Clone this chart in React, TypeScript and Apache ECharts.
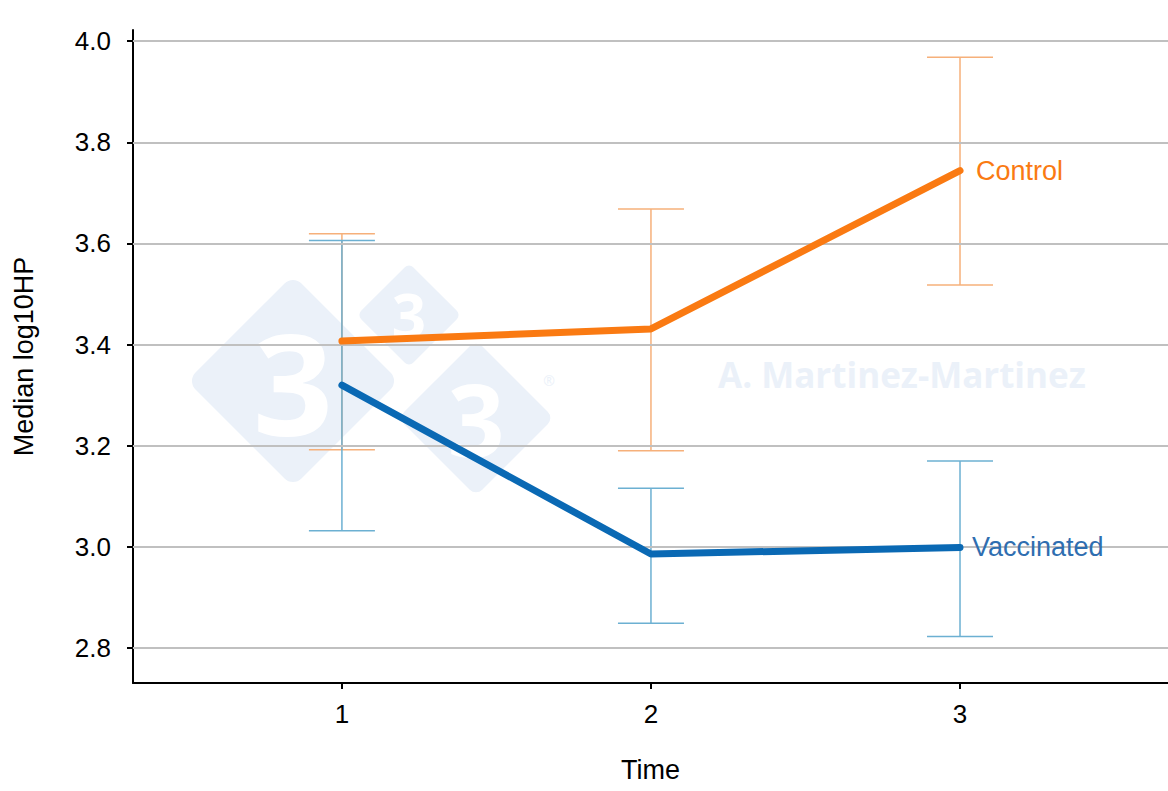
import React, { useEffect, useRef } from "react";
import * as echarts from "echarts";

const times = [1, 2, 3];
const controlMedian = [3.407, 3.431, 3.744];
const controlLow = [3.192, 3.19, 3.518];
const controlHigh = [3.619, 3.668, 3.968];
const vaccMedian = [3.32, 2.986, 2.999];
const vaccLow = [3.032, 2.849, 2.823];
const vaccHigh = [3.606, 3.116, 3.17];
const yTicks = [2.8, 3.0, 3.2, 3.4, 3.6, 3.8, 4.0];

const ORANGE = "#fa7a12";
const BLUE = "#0a69b4";
const ORANGE_LIGHT = "#f6b07a";
const BLUE_LIGHT = "#6cb0d2";
const WM = "#ebf1f9";

function errorSeries(name: string, low: number[], high: number[], color: string) {
  return {
    name,
    type: "custom",
    z: 3,
    data: times.map((t, i) => [t, low[i], high[i]]),
    renderItem: (params: any, api: any) => {
      const x = api.value(0);
      const lo = api.coord([x, api.value(1)]);
      const hi = api.coord([x, api.value(2)]);
      const hw = 33;
      const style = { stroke: color, lineWidth: 1.5, fill: "none" };
      return {
        type: "group",
        children: [
          { type: "line", shape: { x1: lo[0], y1: lo[1], x2: hi[0], y2: hi[1] }, style },
          { type: "line", shape: { x1: lo[0] - hw, y1: lo[1], x2: lo[0] + hw, y2: lo[1] }, style },
          { type: "line", shape: { x1: hi[0] - hw, y1: hi[1], x2: hi[0] + hw, y2: hi[1] }, style },
        ],
      };
    },
  };
}

function diamond(cx: number, cy: number, halfDiag: number, fontSize: number) {
  const s = halfDiag * Math.SQRT2;
  return {
    type: "group",
    x: cx,
    y: cy,
    z: 0,
    children: [
      {
        type: "rect",
        rotation: Math.PI / 4,
        shape: { x: -s / 2, y: -s / 2, width: s, height: s, r: s * 0.08 },
        style: { fill: WM },
      },
      {
        type: "text",
        style: {
          text: "3",
          x: 0,
          y: 0,
          align: "center",
          verticalAlign: "middle",
          fill: "#ffffff",
          font: `bold ${fontSize}px "Open Sans", sans-serif`,
        },
      },
    ],
  };
}

export default function App() {
  const ref = useRef<HTMLDivElement>(null);
  useEffect(() => {
    document.body.style.margin = "0";
    const chart = echarts.init(ref.current!, undefined, { renderer: "svg" });
    const font = "Liberation Sans";
    chart.setOption({
      animation: false,
      backgroundColor: "#ffffff",
      textStyle: { fontFamily: font },
      grid: { left: 133, right: 0, top: 30, bottom: 108, containLabel: false },
      graphic: [
        diamond(293, 381, 106, 140),
        diamond(409, 315, 52, 60),
        diamond(476, 418, 78, 100),
        {
          type: "text",
          z: 0,
          style: {
            text: "®",
            x: 549,
            y: 380,
            align: "center",
            verticalAlign: "middle",
            fill: WM,
            font: '14px "Open Sans", sans-serif',
          },
        },
        {
          type: "text",
          z: 0,
          style: {
            text: "A. Martinez-Martinez",
            x: 718,
            y: 374,
            align: "left",
            verticalAlign: "middle",
            fill: WM,
            font: 'bold 35px "Open Sans", sans-serif',
          },
        },
      ],
      xAxis: {
        type: "value",
        min: 0.324,
        max: 3.673,
        name: "Time",
        nameLocation: "middle",
        nameGap: 73,
        nameTextStyle: { fontSize: 27, color: "#000", fontFamily: font },
        axisLine: { show: true, lineStyle: { color: "#000", width: 2 } },
        axisTick: { show: true, customValues: times, length: 6, lineStyle: { color: "#000", width: 2 } },
        axisLabel: { customValues: times, fontSize: 26, color: "#000", margin: 18, fontFamily: font },
        splitLine: { show: false },
      },
      yAxis: {
        type: "value",
        min: 2.731,
        max: 4.022,
        name: "Median log10HP",
        nameLocation: "middle",
        nameGap: 96,
        nameTextStyle: { fontSize: 27, color: "#000", fontFamily: font },
        axisLine: { show: true, lineStyle: { color: "#000", width: 2 } },
        axisTick: { show: true, customValues: yTicks, length: 6, lineStyle: { color: "#000", width: 2 } },
        axisLabel: {
          customValues: yTicks,
          fontSize: 26,
          color: "#000",
          margin: 22,
          fontFamily: font,
          formatter: (v: number) => v.toFixed(1),
        },
        splitLine: { show: false },
      },
      series: [
        {
          type: "line",
          name: "grid",
          data: [],
          silent: true,
          z: 1,
          markLine: {
            silent: true,
            symbol: "none",
            label: { show: false },
            lineStyle: { color: "#c0c0c0", width: 2, type: "solid" },
            data: yTicks.map((v) => ({ yAxis: v })),
          },
        },
        errorSeries("Control error", controlLow, controlHigh, ORANGE_LIGHT),
        errorSeries("Vaccinated error", vaccLow, vaccHigh, BLUE_LIGHT),
        {
          type: "line",
          name: "Control",
          z: 5,
          data: times.map((t, i) => [t, controlMedian[i]]),
          showSymbol: false,
          lineStyle: { color: ORANGE, width: 7, cap: "round", join: "round" },
          endLabel: {
            show: true,
            formatter: "Control",
            color: ORANGE,
            fontSize: 27,
            distance: 16,
            fontFamily: font,
          },
        },
        {
          type: "line",
          name: "Vaccinated",
          z: 5,
          data: times.map((t, i) => [t, vaccMedian[i]]),
          showSymbol: false,
          lineStyle: { color: BLUE, width: 7, cap: "round", join: "round" },
          endLabel: {
            show: true,
            formatter: "Vaccinated",
            color: "#2f6eb0",
            fontSize: 27,
            distance: 12,
            fontFamily: font,
          },
        },
      ],
    });
    return () => chart.dispose();
  }, []);
  return <div ref={ref} style={{ width: 1168, height: 791 }} />;
}
